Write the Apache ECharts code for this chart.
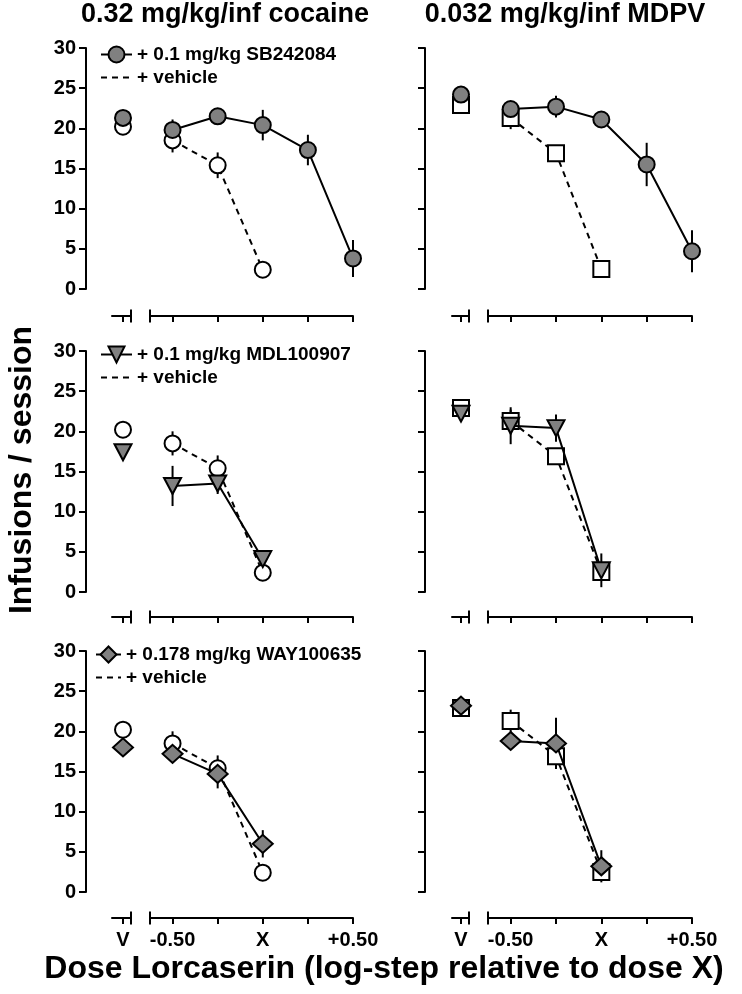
<!DOCTYPE html>
<html><head><meta charset="utf-8">
<script src="https://cdn.jsdelivr.net/npm/echarts@6/dist/echarts.min.js"></script>
<style>html,body{margin:0;padding:0;background:#fff}#c{width:742px;height:994px}</style>
</head><body><div id="c"></div>
<script>
// ---------- data ----------
const panelTitles = ['0.32 mg/kg/inf cocaine', '0.032 mg/kg/inf MDPV'];
const yAxisTitle = 'Infusions / session';
const xAxisTitle = 'Dose Lorcaserin (log-step relative to dose X)';
const doseSteps = [-0.5, -0.25, 0, 0.25, 0.5];
const xTickValues = [-0.5, 0, 0.5];
const xTickTexts = ['-0.50', 'X', '+0.50'];
const vehicleTickText = 'V';
const drugNames = ['+ 0.1 mg/kg SB242084', '+ 0.1 mg/kg MDL100907', '+ 0.178 mg/kg WAY100635'];
const vehicleName = '+ vehicle';

// vehicle pretreatment (same curve in all rows)
const cocaineVehicleV = [20.2, 0.4];          // [mean, sem] at V
const cocaineVehicle = [18.5, 15.4, 2.4];     // at -0.50, -0.25, X
const cocaineVehicleSem = [1.5, 1.6, 0.3];
const mdpvVehicleV = [22.9, 0.4];
const mdpvVehicle = [21.3, 16.9, 2.5];
const mdpvVehicleSem = [1.4, 0.6, 0.4];

// SB242084
const sbCocaineV = [21.3, 0.4];
const sbCocaine = [19.8, 21.5, 20.4, 17.3, 3.8];
const sbCocaineSem = [1.3, 0.6, 1.9, 1.9, 2.3];
const sbMdpvV = [24.2, 0.4];
const sbMdpv = [22.4, 22.7, 21.1, 15.5, 4.7];
const sbMdpvSem = [0.5, 1.35, 0.5, 2.7, 2.6];

// MDL100907
const mdlCocaineV = [17.4, 0.5];
const mdlCocaine = [13.2, 13.5, 4.1];
const mdlCocaineSem = [2.5, 1.3, 1.0];
const mdlMdpvV = [22.2, 1.0];
const mdlMdpv = [20.7, 20.4, 2.7];
const mdlMdpvSem = [2.3, 1.7, 2.1];

// WAY100635
const wayCocaineV = [18.0, 0.3];
const wayCocaine = [17.2, 14.7, 6.0];
const wayCocaineSem = [1.0, 1.8, 1.7];
const wayMdpvV = [23.2, 0.3];
const wayMdpv = [18.8, 18.5, 3.2];
const wayMdpvSem = [0.5, 3.2, 2.0];

// ---------- layout / style ----------
const FONT = '"Liberation Sans", Arial, Helvetica, sans-serif';
const rowTop = [48, 351, 651];
const rowH = 241;
const xOffset = [27, 25, 26];
const colYAxisX = [86, 425];
const colVLeft = [112, 452];
const colVWidth = [19, 17];
const colVMin = [-11, -9];
const colVMax = [8, 8];
const colMainLeft = [150, 488];
const colMainWidth = [203, 204];
const MAIN_MIN = -0.625, MAIN_MAX = 0.5;

const GRAY = '#808080';
const drugSymbols = [
  {symbol: 'circle', size: 16, rotate: 0},
  {symbol: 'triangle', size: [17, 16], rotate: 180},
  {symbol: 'diamond', size: [20, 18], rotate: 0}
];
const vehicleSymbols = [
  {symbol: 'circle', size: 16},
  {symbol: 'rect', size: 16}
];

const rows = [
  {name: drugNames[0], vals: [[sbCocaineV, sbCocaine, sbCocaineSem], [sbMdpvV, sbMdpv, sbMdpvSem]]},
  {name: drugNames[1], vals: [[mdlCocaineV, mdlCocaine, mdlCocaineSem], [mdlMdpvV, mdlMdpv, mdlMdpvSem]]},
  {name: drugNames[2], vals: [[wayCocaineV, wayCocaine, wayCocaineSem], [wayMdpvV, wayMdpv, wayMdpvSem]]}
];
const vehicles = [
  [cocaineVehicleV, cocaineVehicle, cocaineVehicleSem],
  [mdpvVehicleV, mdpvVehicle, mdpvVehicleSem]
];

const grids = [], xAxes = [], yAxes = [], series = [];
const axisLineStyle = {color: '#000', width: 2};
const labelStyle = {color: '#000', fontFamily: FONT, fontWeight: 'bold', fontSize: 20};

function errRender(params, api) {
  const x = api.value(0), m = api.value(1), s = api.value(2);
  const a = api.coord([x, m + s]);
  const b = api.coord([x, m - s]);
  return {type: 'line', shape: {x1: a[0], y1: a[1], x2: b[0], y2: b[1]},
    style: {stroke: '#000', lineWidth: 2}};
}

for (let r = 0; r < 3; r++) {
  for (let c = 0; c < 2; c++) {
    const bottom = r === 2;
    const vIdx = grids.length;
    grids.push({left: colVLeft[c], top: rowTop[r], width: colVWidth[c], height: rowH,
      containLabel: false, outerBoundsMode: 'none'});
    const mIdx = grids.length;
    grids.push({left: colMainLeft[c], top: rowTop[r], width: colMainWidth[c], height: rowH,
      containLabel: false, outerBoundsMode: 'none'});

    // V axis
    xAxes.push({gridIndex: vIdx, type: 'value', min: colVMin[c], max: colVMax[c], offset: xOffset[r],
      axisLine: {show: true, onZero: false, lineStyle: axisLineStyle, symbol: ['none', 'rect'], symbolSize: [13, 2]},
      axisTick: {show: true, customValues: [0], length: 6, lineStyle: axisLineStyle},
      axisLabel: {show: bottom, customValues: [0], formatter: () => vehicleTickText, margin: 12, ...labelStyle},
      splitLine: {show: false}});
    // main dose axis
    xAxes.push({gridIndex: mIdx, type: 'value', min: MAIN_MIN, max: MAIN_MAX, offset: xOffset[r],
      axisLine: {show: true, onZero: false, lineStyle: axisLineStyle, symbol: ['rect', 'none'], symbolSize: [13, 2]},
      axisTick: {show: true, customValues: doseSteps, length: 6, lineStyle: axisLineStyle},
      axisLabel: {show: bottom, customValues: xTickValues, margin: 12,
        formatter: v => { const i = xTickValues.findIndex(t => Math.abs(t - v) < 1e-9); return i >= 0 ? xTickTexts[i] : ''; },
        ...labelStyle},
      splitLine: {show: false}});

    yAxes.push({gridIndex: vIdx, type: 'value', min: 0, max: 30, interval: 5,
      offset: colVLeft[c] - colYAxisX[c],
      axisLine: {show: true, onZero: false, lineStyle: axisLineStyle},
      axisTick: {show: true, length: 7, lineStyle: axisLineStyle},
      axisLabel: {show: c === 0, margin: 10, ...labelStyle},
      splitLine: {show: false}});
    yAxes.push({gridIndex: mIdx, type: 'value', min: 0, max: 30, show: false, splitLine: {show: false}});

    const veh = vehicles[c];
    const drug = rows[r].vals[c];
    const vs = vehicleSymbols[c];
    const ds = drugSymbols[r];

    // error bars (behind markers)
    series.push({type: 'custom', xAxisIndex: vIdx, yAxisIndex: vIdx, z: 1, clip: false,
      renderItem: errRender, silent: true,
      data: [[0, veh[0][0], veh[0][1]], [0, drug[0][0], drug[0][1]]]});
    series.push({type: 'custom', xAxisIndex: mIdx, yAxisIndex: mIdx, z: 1, clip: false,
      renderItem: errRender, silent: true,
      data: veh[1].map((v, i) => [doseSteps[i], v, veh[2][i]])
        .concat(drug[1].map((v, i) => [doseSteps[i], v, drug[2][i]]))});

    // vehicle
    const vehItem = {color: '#fff', borderColor: '#000', borderWidth: 2, opacity: 1};
    series.push({type: 'line', name: 'vehicle-' + r + '-' + c, xAxisIndex: mIdx, yAxisIndex: mIdx, z: 2,
      clip: false, symbol: vs.symbol, symbolSize: vs.size, showAllSymbol: true,
      lineStyle: {color: '#000', width: 2, type: [6, 5]}, itemStyle: vehItem,
      data: veh[1].map((v, i) => [doseSteps[i], v])});
    series.push({type: 'scatter', name: 'vehicleV-' + r + '-' + c, xAxisIndex: vIdx, yAxisIndex: vIdx, z: 2,
      clip: false, symbol: vs.symbol, symbolSize: vs.size, itemStyle: vehItem,
      data: [[0, veh[0][0]]]});

    // drug
    const drugItem = {color: GRAY, borderColor: '#000', borderWidth: 2, opacity: 1};
    series.push({type: 'line', name: rows[r].name, xAxisIndex: mIdx, yAxisIndex: mIdx, z: 3,
      clip: false, symbol: ds.symbol, symbolSize: ds.size, symbolRotate: ds.rotate, showAllSymbol: true,
      lineStyle: {color: '#000', width: 2}, itemStyle: drugItem,
      data: drug[1].map((v, i) => [doseSteps[i], v])});
    series.push({type: 'scatter', name: 'drugV-' + r + '-' + c, xAxisIndex: vIdx, yAxisIndex: vIdx, z: 3,
      clip: false, symbol: ds.symbol, symbolSize: ds.size, symbolRotate: ds.rotate, itemStyle: drugItem,
      data: [[0, drug[0][0]]]});
  }
}

// legend-only vehicle series
series.push({type: 'line', name: vehicleName, xAxisIndex: 1, yAxisIndex: 1, symbol: 'none',
  lineStyle: {color: '#000', width: 2, type: [6, 5]}, data: []});

const legendText = {color: '#000', fontFamily: FONT, fontWeight: 'bold', fontSize: 19};
const legendPos = [{left: 100, top: 45, w: 31}, {left: 100, top: 345, w: 31}, {left: 95, top: 645, w: 25}];
const legends = legendPos.map((p, r) => ({
  orient: 'vertical', left: p.left, top: p.top, itemWidth: p.w, itemHeight: 20, itemGap: 4,
  selectedMode: false, textStyle: legendText, padding: 0,
  data: [{name: drugNames[r]}, {name: vehicleName, itemStyle: {color: 'rgba(0,0,0,0)', borderColor: 'rgba(0,0,0,0)', borderWidth: 0}}]
}));

const titleFont = 'bold 27px ' + FONT;
const option = {
  animation: false,
  backgroundColor: '#fff',
  grid: grids, xAxis: xAxes, yAxis: yAxes, series: series, legend: legends,
  graphic: [
    {type: 'text', x: 225, y: 15, style: {text: panelTitles[0], font: titleFont, fill: '#000', align: 'center', verticalAlign: 'middle'}},
    {type: 'text', x: 565, y: 15, style: {text: panelTitles[1], font: titleFont, fill: '#000', align: 'center', verticalAlign: 'middle'}},
    {type: 'text', x: 22, y: 470, rotation: Math.PI / 2, style: {text: yAxisTitle, font: 'bold 32px ' + FONT, fill: '#000', align: 'center', verticalAlign: 'middle'}},
    {type: 'text', x: 384, y: 969, style: {text: xAxisTitle, font: 'bold 32px ' + FONT, fill: '#000', align: 'center', verticalAlign: 'middle'}}
  ]
};
const chart = echarts.init(document.getElementById('c'), null, {renderer: 'canvas'});
chart.setOption(option);
</script></body></html>
